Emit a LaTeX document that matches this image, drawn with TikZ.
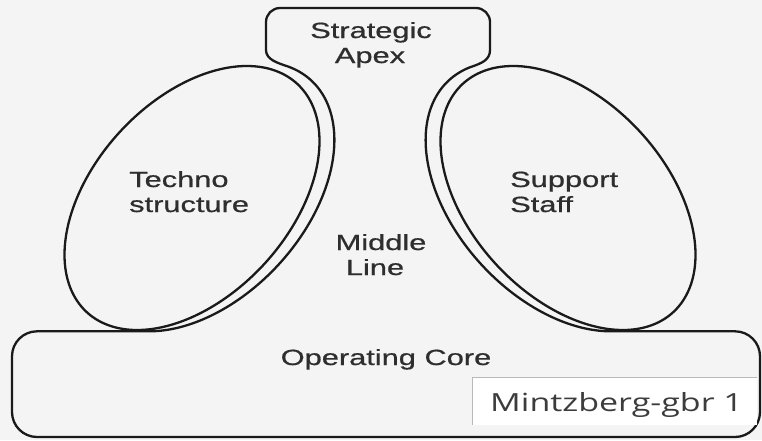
\documentclass[tikz,border=0pt]{standalone}
\usepackage{fontspec}
\setmainfont{Liberation Sans}
\newfontfamily\lblfont{Liberation Sans}[FakeBold=0.6]
\newfontfamily\capfont{Open Sans}
\newcommand{\wideA}[1]{\scalebox{1.40}[1]{#1}}
\newcommand{\wideB}[1]{\scalebox{1.36}[1]{#1}}
\definecolor{bg}{HTML}{F4F4F4}
\definecolor{ink}{HTML}{1A1A1A}
\definecolor{txt}{HTML}{2E2E2E}
\definecolor{captxt}{HTML}{3C3C3C}
\begin{document}
\begin{tikzpicture}[x=1pt,y=-1pt,line join=round,
  outline/.style={draw=ink,line width=2.3pt},
  lbl/.style={inner sep=0pt,text=txt,font=\lblfont\fontsize{22}{25}\selectfont},
  captionlbl/.style={inner sep=0pt,text=captxt,font=\capfont\fontsize{25}{28}\selectfont}]
\useasboundingbox (0,0) rectangle (762,440);
\fill[bg] (0,0) rectangle (762,440);
% big outline: operating core + middle line + strategic apex
\draw[outline] (149.4,331.3)
  -- plot[domain=0:1,samples=140,variable=\s]
     ({204 + 107.2*cos(149.46-164.46*\s) + 74.2*sin(149.46-164.46*\s)},
      {196.5 - 116.1*cos(149.46-164.46*\s) + 68.5*sin(149.46-164.46*\s)})
  .. controls (278.3,63.1) and (266,60) .. (266,50)
  -- (266,22) .. controls (266,14.3) and (272.3,8) .. (280,8)
  -- (476,8) .. controls (483.7,8) and (490,14.3) .. (490,22)
  -- (490,50) .. controls (490,60) and (481.7,63.1) .. (471.7,66.7)
  -- plot[domain=0:1,samples=140,variable=\s]
     ({760 - 204 - 107.2*cos(-15+164.46*\s) - 74.2*sin(-15+164.46*\s)},
      {196.5 - 116.1*cos(-15+164.46*\s) + 68.5*sin(-15+164.46*\s)})
  -- (735,331.3) .. controls (748.8,331.3) and (760,342.5) .. (760,356.3)
  -- (760,412) .. controls (760,425.8) and (748.8,437) .. (735,437)
  -- (37,437) .. controls (23.2,437) and (12,425.8) .. (12,412)
  -- (12,356.3) .. controls (12,342.5) and (23.2,331.3) .. (37,331.3)
  -- cycle;
% technostructure ellipse
\draw[outline] plot[domain=0:360,samples=200,variable=\t]
  ({192 + 105.3*cos(\t) + 71.9*sin(\t)},{198 - 114.1*cos(\t) + 66.4*sin(\t)}) -- cycle;
% support staff ellipse
\draw[outline] plot[domain=0:360,samples=200,variable=\t]
  ({568 - 105.3*cos(\t) - 71.9*sin(\t)},{198 - 114.1*cos(\t) + 66.4*sin(\t)}) -- cycle;
% caption box
\fill[white] (472,377) rectangle (757,425);
\draw[gray!55,line width=0.9pt] (472,425) -- (472,377) -- (757,377);
% labels
\node[lbl,anchor=base] (apex1) at (371,38) {\wideA{Strategic}};
\node[lbl,anchor=base] (apex2) at (370,63) {\wideA{Apex}};
\node[lbl,anchor=base west] (tech1) at (129,187) {\wideA{Techno}};
\node[lbl,anchor=base west] (tech2) at (129,212) {\wideA{structure}};
\node[lbl,anchor=base west] (supp1) at (510,187) {\wideA{Support}};
\node[lbl,anchor=base west] (supp2) at (510,212) {\wideA{Staff}};
\node[lbl,anchor=base] (mid1) at (381,250) {\wideA{Middle}};
\node[lbl,anchor=base] (mid2) at (375,275) {\wideA{Line}};
\node[lbl,anchor=base] (core) at (386,365) {\wideA{Operating Core}};
\node[captionlbl,anchor=base west] (capt) at (490,411) {\wideB{Mintzberg-gbr 1}};
\end{tikzpicture}
\end{document}
